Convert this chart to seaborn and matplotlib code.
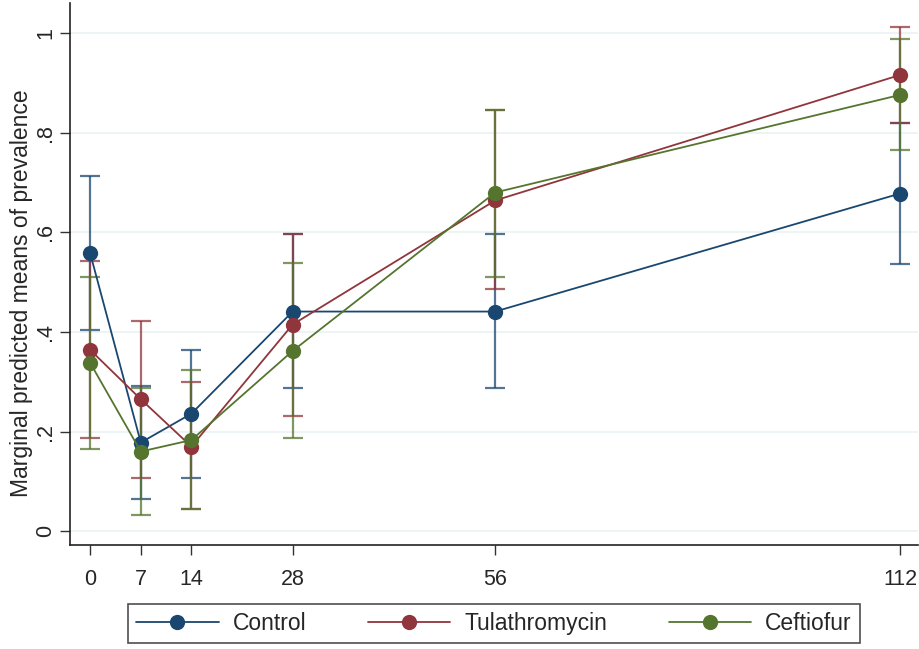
import pandas as pd
import matplotlib
matplotlib.use("Agg")
import matplotlib.pyplot as plt
import seaborn as sns

days = [0, 7, 14, 28, 56, 112]
groups = ["Control", "Tulathromycin", "Ceftiofur"]

control_mean = [0.558, 0.178, 0.236, 0.441, 0.441, 0.678]
control_lo = [0.403, 0.065, 0.107, 0.288, 0.288, 0.536]
control_hi = [0.713, 0.291, 0.364, 0.596, 0.596, 0.820]

tula_mean = [0.364, 0.265, 0.170, 0.415, 0.664, 0.916]
tula_lo = [0.187, 0.107, 0.045, 0.232, 0.487, 0.819]
tula_hi = [0.542, 0.423, 0.299, 0.597, 0.846, 1.013]

ceft_mean = [0.338, 0.160, 0.183, 0.362, 0.680, 0.876]
ceft_lo = [0.165, 0.032, 0.045, 0.187, 0.511, 0.766]
ceft_hi = [0.511, 0.288, 0.323, 0.538, 0.846, 0.988]

colors = ["#1a476f", "#90353b", "#55752f"]

sns.set_style("white")
plt.rcParams["font.family"] = ["Liberation Sans", "DejaVu Sans"]

rows = []
for g, m in zip(groups, [control_mean, tula_mean, ceft_mean]):
    for d, v in zip(days, m):
        rows.append({"day": d, "group": g, "mean": v})
df = pd.DataFrame(rows)

fig, ax = plt.subplots(figsize=(9.2, 6.49), dpi=100)

# confidence intervals first so the markers sit on top
cis = [(control_mean, control_lo, control_hi),
       (tula_mean, tula_lo, tula_hi),
       (ceft_mean, ceft_lo, ceft_hi)]
for (m, lo, hi), c in zip(cis, colors):
    err = [[a - b for a, b in zip(m, lo)], [b - a for a, b in zip(m, hi)]]
    ax.errorbar(days, m, yerr=err, fmt="none", ecolor=c, elinewidth=1.6,
                capsize=7, capthick=1.6, alpha=0.75, zorder=2)

sns.lineplot(data=df, x="day", y="mean", hue="group", hue_order=groups,
             palette=colors, marker="o", markersize=11, markeredgewidth=0,
             linewidth=1.3, ax=ax, zorder=3)

ax.set_xlim(-2.8, 114.5)
ax.set_ylim(-0.028, 1.06)
ax.set_xticks(days)
ax.set_xticklabels([str(d) for d in days], fontsize=15.5)
ax.set_yticks([0, 0.2, 0.4, 0.6, 0.8, 1.0])
ax.set_yticklabels(["0", ".2", ".4", ".6", ".8", "1"], fontsize=15.5,
                   rotation=90, va="center")
ax.yaxis.grid(True, color="#eaf2f3", linewidth=1.2)
ax.tick_params(axis="both", direction="out", length=7, width=1, color="#333333",
               left=True, bottom=True)
ax.tick_params(axis="x", pad=10)
ax.tick_params(axis="y", pad=3)
ax.set_xlabel("")
ax.set_ylabel("Marginal predicted means of prevalence", fontsize=16.5)
ax.yaxis.set_label_coords(-0.044, 0.465)
for s in ["top", "right"]:
    ax.spines[s].set_visible(False)
for s in ["left", "bottom"]:
    ax.spines[s].set_color("#222222")
    ax.spines[s].set_linewidth(1.2)

handles, labels = ax.get_legend_handles_labels()
leg = ax.legend(handles, labels, loc="upper center", bbox_to_anchor=(0.5, -0.088),
                ncol=3, frameon=True, fancybox=False, edgecolor="#222222",
                fontsize=16.5, handlelength=3.6, handletextpad=0.6,
                columnspacing=2.7, borderpad=0.35)
leg.get_frame().set_linewidth(1.2)

fig.subplots_adjust(left=0.076, right=0.998, top=0.995, bottom=0.16)
fig.savefig("out.png", dpi=100, facecolor="white")
